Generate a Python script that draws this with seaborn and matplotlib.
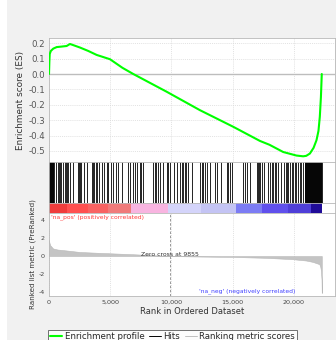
import numpy as np
import pandas as pd
import matplotlib
matplotlib.use("Agg")
import matplotlib.pyplot as plt
import seaborn as sns
from matplotlib.lines import Line2D
from matplotlib.patches import Rectangle

# ---------------- data ----------------
es_rank = [0, 30, 60, 150, 350, 630, 1000, 1440, 1710, 1900, 2530, 3200, 3890, 4980,
           6000, 6880, 9600, 12320, 15040, 17220, 18000, 19120, 20200, 20750, 21000,
           21300, 21600, 21840, 22000, 22110, 22200, 22270]
es_value = [0.0, 0.08, 0.13, 0.15, 0.165, 0.175, 0.178, 0.182, 0.195, 0.19, 0.172, 0.15,
            0.124, 0.096, 0.04, 0.0, -0.115, -0.235, -0.343, -0.435, -0.46, -0.507,
            -0.53, -0.535, -0.532, -0.517, -0.48, -0.43, -0.37, -0.278, -0.15, 0.0]

hit_ranks = [0, 40, 80, 120, 160, 200, 245, 285, 325, 365, 410, 550, 710, 816, 898, 980,
             1170, 1306, 1388, 1470,
             1590, 1714, 1984, 2408, 2490, 2571, 2653, 2882, 3078, 3510, 3592, 3673, 3837,
             3959, 4082, 4367, 4490, 4735, 4840, 5062, 5250, 5442, 5654, 5935, 6424, 6612,
             6898, 7020, 7159, 7428, 7551, 7698, 8514, 8653, 8775, 8873, 9061, 9330, 9608,
             9738, 9877, 10228, 10424, 10694, 10833, 10963, 11102, 11224, 11322, 11649,
             12327, 12465, 12612, 12735, 12873, 13143, 13551, 13690, 14041, 14506, 14637,
             14775, 14914, 15861, 16000, 16139, 16408, 16955, 17036, 17143, 17224, 17362,
             17575, 17901, 18040, 18179, 18310, 18449, 18571, 18718, 18939, 19208, 19322,
             19428, 19535, 19673, 19812, 19943, 20082, 20204, 20351, 20490, 20612, 20759,
             20898, 20940, 20980, 21020, 21060, 21100, 21140, 21180, 21220, 21260, 21300,
             21340, 21380, 21420, 21460, 21500, 21540, 21580, 21620, 21660, 21700, 21740,
             21780, 21820, 21860, 21900, 21940, 21980, 22020, 22060, 22100, 22140, 22180,
             22220, 22260]

metric_rank = [0, 30, 100, 330, 700, 1410, 2500, 4140, 6860, 9855, 12500, 15010, 17730,
               19900, 21000, 21530, 22070, 22150, 22200, 22250, 22270]
metric_value = [1.77, 1.5, 1.2, 0.84, 0.72, 0.62, 0.45, 0.35, 0.2, 0.0, -0.06, -0.1, -0.2,
                -0.35, -0.5, -0.65, -0.9, -1.2, -1.6, -2.6, -4.1]

band_bounds = [0, 1500, 3200, 4800, 6700, 9750, 12400, 15300, 17400, 19500, 21400, 22270]
band_colors = ['#f03c3c', '#ff5050', '#f86262', '#f07a7a', '#f8b4e0', '#d4d4fa', '#c4c4f4',
               '#7c7cf4', '#6050ec', '#4f3fd8', '#200c98']

zero_cross = 9855
x_ticks = [0, 5000, 10000, 15000, 20000]
x_labels = ['0', '5,000', '10,000', '15,000', '20,000']
es_ticks = [0.2, 0.1, 0.0, -0.1, -0.2, -0.3, -0.4, -0.5]
es_labels = ['0.2', '0.1', '0.0', '-0.1', '-0.2', '-0.3', '-0.4', '-0.5']
metric_ticks = [4, 2, 0, -2, -4]
metric_labels = ['4', '2', '0', '-2', '-4']

# ---------------- style ----------------
sns.set_theme(style="white")
plt.rcParams['font.family'] = ['DejaVu Sans']
plt.rcParams['axes.unicode_minus'] = False

W, H = 336, 340
fig = plt.figure(figsize=(W / 100, H / 100), dpi=100, facecolor='white')
fig.patches.append(Rectangle((7 / W, 0), 1, 1, transform=fig.transFigure,
                             facecolor='#f1f1f1', edgecolor='none', zorder=-10))

left = 49 / W
width = (335 - 49) / W
def fr(top_px, bot_px):
    return [left, (H - bot_px) / H, width, (bot_px - top_px) / H]

ax_es = fig.add_axes(fr(38, 162))
ax_hit = fig.add_axes(fr(162, 203))
ax_cb = fig.add_axes(fr(203, 213))
ax_m = fig.add_axes(fr(213, 296))

xmax = 23350
spine_c = '#b8b8b8'
grid_c = '#d8d8d8'
for ax in (ax_es, ax_hit, ax_cb, ax_m):
    ax.set_xlim(0, xmax)
    ax.set_facecolor('white')
    for s in ax.spines.values():
        s.set_color(spine_c)
        s.set_linewidth(0.6)

# ES panel
df_es = pd.DataFrame({'rank': es_rank, 'es': es_value})
sns.lineplot(data=df_es, x='rank', y='es', ax=ax_es, color='#00ff00', lw=1.5,
             zorder=3, legend=False)
ax_es.set_xlim(0, xmax)
ax_es.set_ylim(-0.572, 0.234)
ax_es.set_xticks(x_ticks)
ax_es.set_yticks(es_ticks)
ax_es.set_yticklabels(es_labels)
ax_es.grid(True, color=grid_c, linestyle=(0, (1.5, 1.5)), linewidth=0.5)
ax_es.axhline(0, color='#bdbdbd', lw=1.0, zorder=1)
ax_es.set_xlabel('')
ax_es.set_ylabel('Enrichment score (ES)', fontsize=6.4, color='#333333', labelpad=2)
ax_es.tick_params(axis='x', length=0, labelbottom=False)
ax_es.tick_params(axis='y', length=1.5, labelsize=6.2, colors='#555555', pad=1.5)

# Hits panel
ax_hit.vlines(hit_ranks, 0, 1, color='black', lw=0.6)
ax_hit.set_ylim(0, 1)
ax_hit.set_xticks([])
ax_hit.set_yticks([])

# color band
for lo, hi, c in zip(band_bounds[:-1], band_bounds[1:], band_colors):
    ax_cb.axvspan(lo, hi, color=c, lw=0)
ax_cb.set_ylim(0, 1)
ax_cb.set_xticks([])
ax_cb.set_yticks([])

# ranked metric panel
ax_m.set_ylim(-4.44, 4.78)
ax_m.fill_between(metric_rank, 0, metric_value, color='#c4c4c4', lw=0.4, edgecolor='#b8b8b8')
ax_m.set_xticks(x_ticks)
ax_m.set_xticklabels(x_labels)
ax_m.set_yticks(metric_ticks)
ax_m.set_yticklabels(metric_labels)
ax_m.grid(True, axis='x', color=grid_c, linestyle=(0, (1.5, 1.5)), linewidth=0.5)
ax_m.axvline(zero_cross, color='#888888', lw=0.6, linestyle=(0, (3, 2)))
ax_m.tick_params(axis='both', length=1.5, labelsize=4.6, colors='#444444', pad=1.5)
ax_m.set_xlabel('Rank in Ordered Dataset', fontsize=6, color='#333333', labelpad=1.5)
ax_m.set_ylabel('Ranked list metric (PreRanked)', fontsize=5.1, color='#333333', labelpad=2)
ax_m.text(150, 4.6, "'na_pos' (positively correlated)", color='#ff3838', fontsize=4.3,
          ha='left', va='top')
ax_m.text(zero_cross, 0.12, f'Zero cross at {zero_cross}', color='#333333', fontsize=4.4,
          ha='center', va='center')
ax_m.text(20080, -3.86, "'na_neg' (negatively correlated)", color='#4040ff', fontsize=4.3,
          ha='right', va='center')

handles = [Line2D([], [], color='#00ff00', lw=1.5),
           Line2D([], [], color='black', lw=0.7),
           Line2D([], [], color='#c0c0c0', lw=0.7)]
labels = ['Enrichment profile', 'Hits', 'Ranking metric scores']
leg = fig.legend(handles, labels, loc='lower left', bbox_to_anchor=(48 / W, -3 / H),
                 ncol=3, fontsize=6.2, frameon=True, fancybox=False, edgecolor='#333333',
                 handlelength=1.4, handletextpad=0.3, columnspacing=0.5, borderpad=0.25,
                 borderaxespad=0)
leg.get_frame().set_linewidth(0.6)
leg.get_frame().set_facecolor('white')

fig.savefig('out.png', dpi=100, facecolor=fig.get_facecolor())
